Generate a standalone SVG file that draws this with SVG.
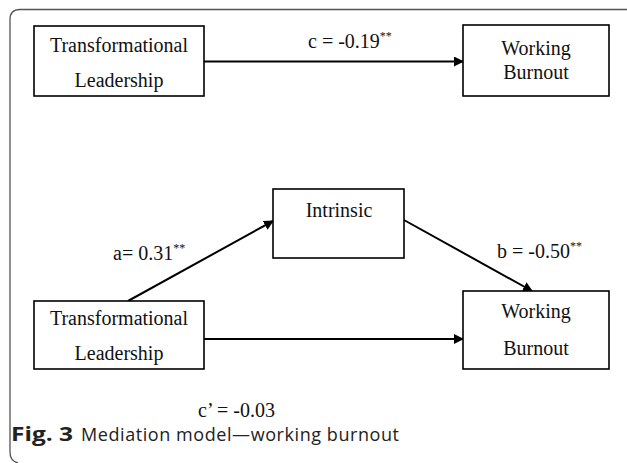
<svg xmlns="http://www.w3.org/2000/svg" width="627" height="463" viewBox="0 0 627 463">
<style>
.box{fill:#fff;stroke:#000;stroke-width:1.6}
.lbl{font-family:"Liberation Serif","Times New Roman",serif;font-size:20px;fill:#111}
.mid{text-anchor:middle}
.sup{font-size:12px}
.edge{stroke:#000;stroke-width:2;fill:none;marker-end:url(#arr)}
.cap{font-family:"Open Sans","Noto Sans",sans-serif;font-size:18px;fill:#222}
.capb{font-family:"Open Sans","Noto Sans",sans-serif;font-size:19px;font-weight:bold;fill:#222}
</style>
<defs>
<marker id="arr" markerWidth="10" markerHeight="10" refX="9" refY="5" orient="auto" markerUnits="userSpaceOnUse">
<path d="M0,0 L10,5 L0,10 Z" fill="#000"/>
</marker>
</defs>
<rect width="627" height="463" fill="#fff"/>
<path d="M627 9.5 H20 Q10 9.5 10 19.5 V452 Q10 461 18 463" fill="none" stroke="#555" stroke-width="1.3"/>
<g id="connectors">
<line class="edge" x1="204" y1="61.5" x2="463" y2="61.5"/>
<line class="edge" x1="128" y1="301" x2="273" y2="221"/>
<line class="edge" x1="404" y1="220" x2="532" y2="291"/>
<line class="edge" x1="204" y1="339" x2="463" y2="339"/>
<text class="lbl" x="308" y="48">c = -0.19<tspan class="sup" dy="-8">**</tspan></text>
<text class="lbl" x="113" y="260">a= 0.31<tspan class="sup" dy="-8">**</tspan></text>
<text class="lbl" x="497" y="258">b = -0.50<tspan class="sup" dy="-8">**</tspan></text>
<text class="lbl" x="198" y="417">c’ = -0.03</text>
</g>
<g id="tl1">
<rect class="box" x="34" y="26" width="170" height="70"/>
<text class="lbl mid" x="119" y="52">Transformational</text>
<text class="lbl mid" x="119" y="87">Leadership</text>
</g>
<g id="wb1">
<rect class="box" x="463" y="25" width="146" height="71"/>
<text class="lbl mid" x="536" y="55">Working</text>
<text class="lbl mid" x="536" y="79">Burnout</text>
</g>
<g id="intrinsic">
<rect class="box" x="273" y="189" width="131" height="69"/>
<text class="lbl mid" x="339" y="217">Intrinsic</text>
</g>
<g id="tl2">
<rect class="box" x="34" y="301" width="170" height="68"/>
<text class="lbl mid" x="119" y="325">Transformational</text>
<text class="lbl mid" x="119" y="360">Leadership</text>
</g>
<g id="wb2">
<rect class="box" x="463" y="291" width="146" height="78"/>
<text class="lbl mid" x="536" y="318">Working</text>
<text class="lbl mid" x="536" y="355">Burnout</text>
</g>
<text class="capb" x="11" y="441" textLength="62" lengthAdjust="spacingAndGlyphs">Fig. 3</text>
<text class="cap" x="81" y="441" textLength="318" lengthAdjust="spacing">Mediation model—working burnout</text>
</svg>
